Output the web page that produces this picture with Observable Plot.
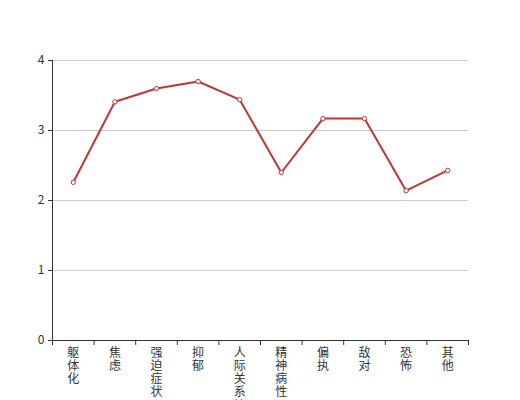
<!DOCTYPE html>
<html><head><meta charset="utf-8">
<script src="https://cdn.jsdelivr.net/npm/d3@7"></script>
<script src="https://cdn.jsdelivr.net/npm/@observablehq/plot@0.6"></script>
<style>body{margin:0;background:#fff}</style>
</head><body><div id="chart"></div>
<script>
const categories = ["躯体化","焦虑","强迫症状","抑郁","人际关系敏感","精神病性","偏执","敌对","恐怖","其他"];
const values = [2.26, 3.41, 3.60, 3.70, 3.44, 2.40, 3.17, 3.17, 2.14, 2.43];
const yTicks = [0, 1, 2, 3, 4];

const data = categories.map((c, i) => ({c, i, v: values[i]}));
const red = "#c23531";

const chart = Plot.plot({
  width: 520, height: 400,
  marginLeft: 52, marginRight: 52, marginTop: 60, marginBottom: 60,
  style: {fontFamily: "'Noto Sans CJK SC', sans-serif", fontSize: "12px", color: "#333", background: "#fff"},
  x: {domain: [0, categories.length], axis: null},
  y: {domain: [0, 4], axis: null},
  marks: [
    Plot.ruleY(yTicks.filter(d => d > 0), {stroke: "#ccc", strokeOpacity: 1}),
    Plot.axisY({ticks: yTicks, tickFormat: d3.format("d"), label: null, tickSize: 4, tickPadding: 4, stroke: "#333", fill: "#333", fontSize: 12}),
    Plot.ruleX([0], {stroke: "#333"}),
    Plot.ruleY([0], {stroke: "#333"}),
    Plot.axisX({ticks: d3.range(categories.length + 1), tickFormat: () => "", label: null, tickSize: 5, stroke: "#333"}),
    Plot.text(data, {x: d => d.i + 0.5, y: 0, text: d => d.c.split("").join("\n"), lineAnchor: "top", dy: 7, lineHeight: 1.1, fill: "#333", fontSize: 12}),
    Plot.line(data, {x: d => d.i + 0.5, y: "v", stroke: red, strokeWidth: 2}),
    Plot.dot(data, {x: d => d.i + 0.5, y: "v", r: 2.2, fill: "#fff", stroke: red, strokeWidth: 1})
  ]
});
document.getElementById("chart").appendChild(chart);
</script></body></html>
